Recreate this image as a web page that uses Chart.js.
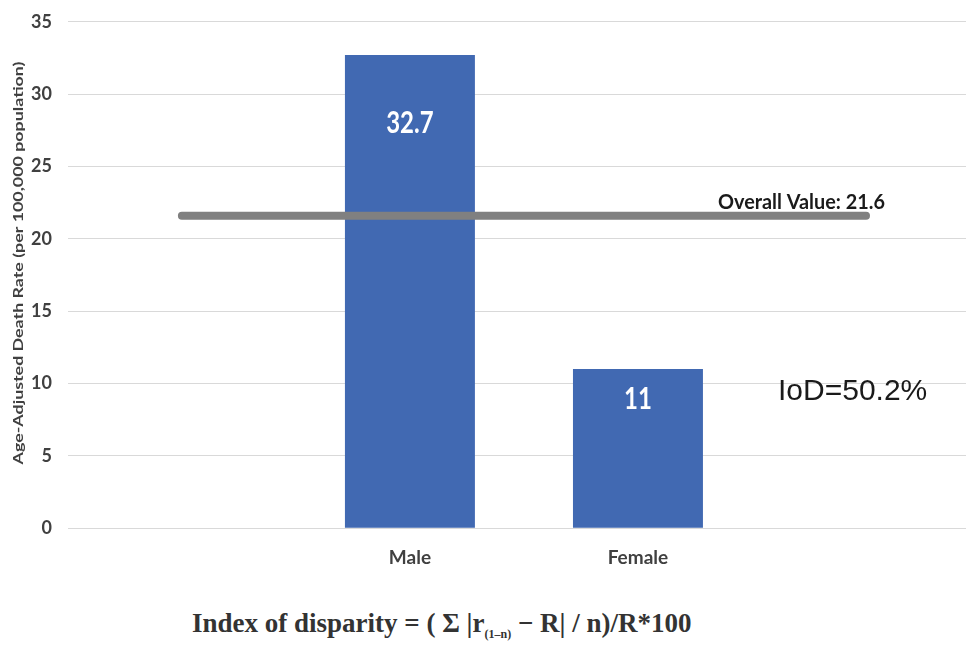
<!DOCTYPE html>
<html>
<head>
<meta charset="utf-8">
<script src="https://cdn.jsdelivr.net/npm/chart.js@4.4.0/dist/chart.umd.min.js"></script>
<style>
  html, body { margin: 0; padding: 0; background: #fff; overflow: hidden; width: 966px; height: 645px; }
  #wrap { position: absolute; left: 0; top: -5px; width: 980px; height: 584px; }
  #formula {
    position: absolute; left: 192px; top: 608px; white-space: nowrap;
    font-family: "Liberation Serif", "DejaVu Serif", serif; font-size: 27px; font-weight: bold; color: #333;
  }
  #formula sub { font-size: 12px; }
</style>
</head>
<body>
<div id="wrap"><canvas id="chart"></canvas></div>
<div id="formula">Index of disparity = ( &Sigma; |r<sub>(1&ndash;n)</sub> &minus; R| / n)/R*100</div>
<script>
// categories (first and last are empty, they only carry the overall line)
const categories = ['', 'Male', 'Female', ''];
const deathRates = [null, 32.7, 11, null];
const overallValue = 21.6;
const overallLine = [overallValue, overallValue, overallValue, overallValue];
const overallLabel = 'Overall Value: ' + overallValue;
const iodLabel = 'IoD=50.2%';
const yTicks = [0, 5, 10, 15, 20, 25, 30, 35];
const yTitle = 'Age-Adjusted Death Rate (per 100,000 population)';

// text squeezed or stretched along its own direction
function drawScaledText(ctx, text, x, y, width) {
  const w = ctx.measureText(text).width;
  ctx.save();
  ctx.translate(x, y);
  ctx.scale(width / w, 1);
  ctx.fillText(text, 0, 0);
  ctx.restore();
}

// draws value labels inside bars, overall label, IoD text and y title
const textPlugin = {
  id: 'texts',
  afterDatasetsDraw(chart) {
    const ctx = chart.ctx;
    const bars = chart.getDatasetMeta(0).data;
    const yScale = chart.scales.y;
    const area = chart.chartArea;
    ctx.save();
    ctx.fillStyle = '#ffffff';
    ctx.font = 'bold 30px Lato';
    ctx.textAlign = 'center';
    ctx.textBaseline = 'middle';
    const offsets = [0, 68, 30, 0];
    bars.forEach((bar, i) => {
      if (deathRates[i] == null) return;
      const txt = String(deathRates[i]);
      drawScaledText(ctx, txt, bar.x, bar.y + offsets[i], ctx.measureText(txt).width * 0.8);
    });

    const line = chart.getDatasetMeta(1).data;
    const last = line[line.length - 1];
    ctx.fillStyle = '#1a1a1a';
    ctx.font = 'bold 21px Lato';
    ctx.textAlign = 'right';
    ctx.textBaseline = 'alphabetic';
    drawScaledText(ctx, overallLabel, last.x + 19, last.y - 7, 167);

    ctx.font = '30px "Liberation Sans"';
    ctx.textAlign = 'left';
    ctx.textBaseline = 'middle';
    ctx.fillText(iodLabel, 778, yScale.getPixelForValue(9.4));

    // rotated y title
    ctx.fillStyle = '#404040';
    ctx.font = 'bold 13px Lato';
    ctx.textAlign = 'center';
    ctx.translate(19, (area.top + area.bottom) / 2 - 12);
    ctx.rotate(-Math.PI / 2);
    drawScaledText(ctx, yTitle, 0, 0, 403);
    ctx.restore();
  }
};

new Chart(document.getElementById('chart'), {
  data: {
    labels: categories,
    datasets: [
      {
        type: 'bar',
        data: deathRates,
        backgroundColor: '#4169b2',
        barPercentage: 1,
        categoryPercentage: 0.57,
        order: 2
      },
      {
        type: 'line',
        data: overallLine,
        borderColor: '#808080',
        borderWidth: 8,
        borderCapStyle: 'round',
        pointRadius: 0,
        order: 1
      }
    ]
  },
  options: {
    responsive: true,
    maintainAspectRatio: false,
    animation: false,
    layout: { padding: { top: 4, left: 15, right: 0, bottom: 0 } },
    plugins: { legend: { display: false }, tooltip: { enabled: false } },
    scales: {
      x: {
        grid: { display: false },
        border: { display: false },
        ticks: { color: '#404040', font: { family: 'Lato', size: 19, weight: 'bold' }, padding: 10 }
      },
      y: {
        min: 0,
        max: 35,
        afterBuildTicks(scale) { scale.ticks = yTicks.map(v => ({ value: v })); },
        grid: { color: '#d9d9d9', lineWidth: 1, drawTicks: false },
        border: { display: false },
        ticks: { color: '#404040', font: { family: 'Lato', size: 18, weight: 'bold' }, padding: 16 }
      }
    }
  },
  plugins: [textPlugin]
});
</script>
</body>
</html>
